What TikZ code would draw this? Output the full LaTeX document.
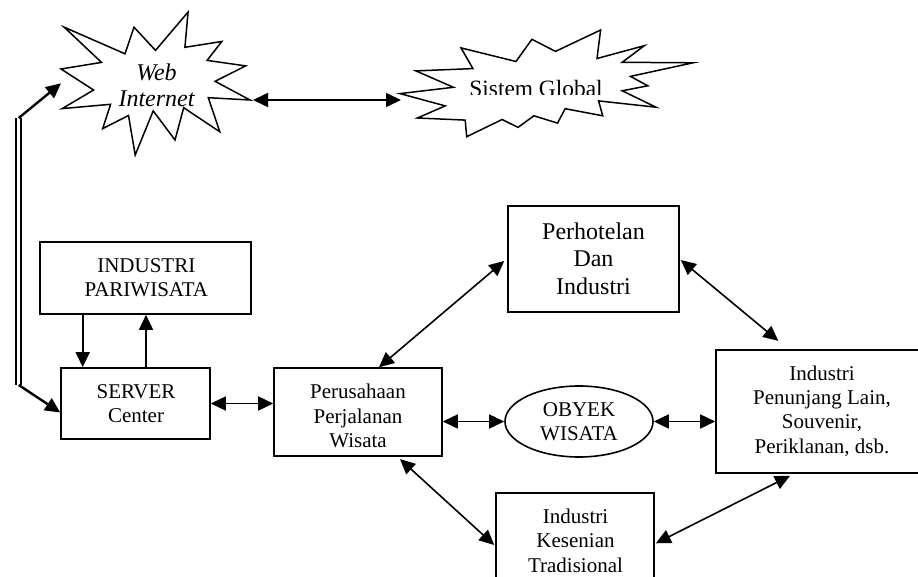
\documentclass[tikz,border=0pt]{standalone}
\usepackage{fontspec}
\setmainfont{Liberation Serif}
\usetikzlibrary{arrows.meta,shapes.geometric}
\begin{document}
\begin{tikzpicture}[x=1pt,y=-1pt,
  box/.style={draw, line width=1.6pt, rectangle, inner sep=0pt},
  txt/.style={align=center, inner sep=0pt, font=\fontsize{21}{24.3}\selectfont},
  bigtxt/.style={align=center, inner sep=0pt, font=\fontsize{24}{27.3}\selectfont},
  startxt/.style={align=center, inner sep=0pt, font=\fontsize{24}{26.7}\selectfont\itshape},
  seal/.style={draw, line width=1.5pt, fill=white, line join=miter},
  con/.style={line width=1.6pt, {Triangle[length=15pt,width=14pt]}-{Triangle[length=15pt,width=14pt]}},
  one/.style={line width=1.6pt, -{Triangle[length=15pt,width=14pt]}},
  thick2/.style={line width=2.4pt, -{Triangle[length=15pt,width=14pt]}},
  dbl/.style={double, double distance=3pt, line width=2pt}]
\useasboundingbox (0,0) rectangle (918,577);
\clip (0,0) rectangle (918,577);

% stars
\draw[seal] (155.5,50.4) -- (188.1,12) -- (184.9,47.3) -- (221.8,41.5) -- (207.1,60.4) -- (245.6,65.9) -- (215.1,81.3) -- (250,100) -- (208.3,97.7) -- (219.8,131.8) -- (183.7,107.7) -- (175,140) -- (153.2,110.9) -- (135.2,155) -- (128.5,115.5) -- (102.7,128.6) -- (110.6,104.3) -- (62.2,108.6) -- (93.6,90) -- (61,69) -- (101.5,62.4) -- (64.2,27.2) -- (125,53.8) -- (134,27.2) -- cycle;
\node[startxt] (webT) at (156.5,85.2) {Web\\Internet};

\draw[seal] (555.5,51.4) -- (600.6,30) -- (597,58.5) -- (644.3,45.7) -- (622.2,62.3) -- (693,62.8) -- (630.4,76.4) -- (647.8,85.8) -- (622.2,90.8) -- (656,107.2) -- (598.6,100.9) -- (602.7,115.8) -- (565.2,108.7) -- (557.5,123.1) -- (533.9,115.8) -- (518,127.4) -- (502.1,119.5) -- (466.7,136.7) -- (465.2,120.1) -- (417.4,118) -- (445.2,105.9) -- (400,93.6) -- (453.4,87.3) -- (415.9,70.9) -- (472.9,68.6) -- (461,47.9) -- (516,61.5) -- (531.9,39.3) -- cycle;
\begin{scope}
\clip (380,60) rectangle (700,95);
\node[bigtxt, anchor=base, font=\fontsize{23.4}{26}\selectfont] (sysT) at (536,97) {Sistem Global};
\end{scope}

\coordinate (webR) at (253,100);
\coordinate (sysL) at (401,100);
\coordinate (webL) at (61,83.3);
\coordinate (dlTop) at (18.7,118);
\coordinate (dlBot) at (18.7,385);

% boxes
\node[box, minimum width=211pt, minimum height=72pt] (ind) at (145.5,278) {};
\node[txt] (indT) at (146.3,277.7) {INDUSTRI\\PARIWISATA};

\node[box, minimum width=149pt, minimum height=71pt] (srv) at (135.5,403.5) {};
\node[txt] (srvT) at (136,403.9) {SERVER\\Center};

\node[box, minimum width=168pt, minimum height=88pt] (per) at (358,412) {};
\node[txt] (perT) at (358,416) {Perusahaan\\Perjalanan\\Wisata};

\node[box, minimum width=171pt, minimum height=106pt] (hot) at (593.5,259) {};
\node[bigtxt] (hotT) at (593.5,258.5) {Perhotelan\\Dan\\Industri};

\node[box, ellipse, minimum width=148pt, minimum height=71pt] (oby) at (579,421.5) {};
\node[txt] (obyT) at (579,421.7) {OBYEK\\WISATA};

\node[box, minimum width=212pt, minimum height=123pt] (pen) at (822,411.5) {};
\node[txt] (penT) at (822,411) {Industri\\Penunjang Lain,\\Souvenir,\\Periklanan, dsb.};

\node[box, minimum width=158pt, minimum height=96pt] (kes) at (575,541) {};
\node[txt] (kesT) at (575.5,540.7) {Industri\\Kesenian\\Tradisional};

% connectors
\draw[con] (webR) -- (sysL);
\draw[dbl] (dlTop) -- (dlBot);
\draw[thick2] (dlTop) -- (webL);
\draw[thick2] (dlBot) -- ([yshift=-9pt]srv.west);
\draw[one] ([xshift=-62.8pt]ind.south) -- ([xshift=-52.8pt]srv.north);
\draw[one] ([xshift=10.5pt]srv.north) -- ([xshift=0.5pt]ind.south);
\draw[con] (srv.east) -- (srv.east -| per.west);
\draw[con] (oby.west -| per.east) -- (oby.west);
\draw[con] (oby.east) -- (oby.east -| pen.west);
\draw[con] ([xshift=21pt]per.north) -- ([xshift=-3pt,yshift=-2pt]hot.west);
\draw[con] ([xshift=1pt,yshift=-1pt]hot.east) -- ([xshift=-43.7pt,yshift=8.3pt]pen.north);
\draw[con] ([xshift=42pt,yshift=-2.3pt]per.south) -- ([xshift=-1pt,yshift=-4pt]kes.west);
\draw[con] ([xshift=1pt,yshift=-2.3pt]kes.east) -- ([xshift=-32pt,yshift=-2pt]pen.south);
\end{tikzpicture}
\end{document}
